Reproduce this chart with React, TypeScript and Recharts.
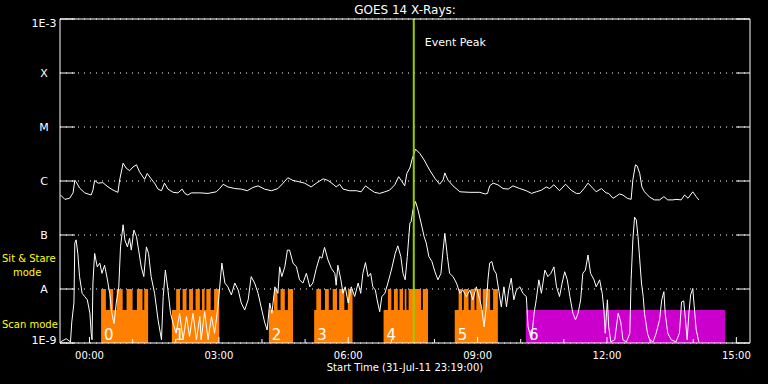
import { LineChart, Line, XAxis, YAxis, CartesianGrid, ReferenceArea, ReferenceLine, Label, Customized } from "recharts";

const FONT = "'DejaVu Sans', sans-serif";

// hours relative to 01-Aug-11 00:00 UT; plot runs 31-Jul 23:19 -> 01-Aug 15:19
const startHour = -41 / 60;
const endHour = 15 + 19 / 60;
const eventPeakHour = 7.52;

const hourTicks = [0, 1, 2, 3, 4, 5, 6, 7, 8, 9, 10, 11, 12, 13, 14, 15];
const decadeTicks = [-9, -8, -7, -6, -5, -4, -3];
const decadeLabels = ["1E-9", "A", "B", "C", "M", "X", "1E-3"];

// [hour, log10 flux W/m^2] - 1-8 A channel
const longChannel = [
    [-0.67, -6.26], [-0.57, -6.34], [-0.46, -6.32], [-0.38, -6.22], [-0.34, -5.99], [-0.31, -6.01], [-0.23, -6.13], [-0.11, -6.22],
    [0.04, -6.26], [0.08, -6.17], [0.12, -5.99], [0.2, -6.04], [0.31, -6.03], [0.43, -6.11], [0.55, -6.17], [0.66, -6.21], [0.7, -5.98],
    [0.78, -5.67], [0.85, -5.76], [0.93, -5.81], [1.01, -5.74], [1.09, -5.7], [1.16, -5.83], [1.28, -5.97], [1.34, -5.86], [1.42, -5.95],
    [1.51, -6.04], [1.59, -6.15], [1.67, -6.18], [1.74, -6.04], [1.82, -6.15], [1.94, -6.21], [2.05, -6.22], [2.15, -6.15], [2.21, -6.23],
    [2.28, -6.26], [2.36, -6.22], [2.56, -6.22], [2.75, -6.23], [2.94, -6.2], [3.02, -6.14], [3.1, -6.06], [3.21, -6.11], [3.37, -6.14],
    [3.52, -6.15], [3.66, -6.18], [3.79, -6.12], [3.91, -6.09], [4.06, -6.15], [4.22, -6.18], [4.37, -6.14], [4.49, -6.04], [4.6, -5.94],
    [4.72, -5.99], [4.84, -6.01], [4.99, -6.04], [5.14, -6.11], [5.26, -6.04], [5.42, -5.96], [5.53, -5.99], [5.65, -6.06], [5.72, -6.11],
    [5.8, -6.06], [5.88, -6.15], [6.03, -6.18], [6.19, -6.18], [6.3, -6.2], [6.4, -6.09], [6.5, -6.15], [6.61, -6.21], [6.73, -6.23],
    [6.85, -6.2], [6.96, -6.17], [7.08, -6.07], [7.17, -5.92], [7.23, -5.99], [7.31, -6.09], [7.36, -5.86], [7.43, -5.76], [7.48, -5.6],
    [7.56, -5.41], [7.66, -5.49], [7.76, -5.61], [7.89, -5.8], [8.01, -5.95], [8.12, -6.06], [8.2, -5.98], [8.24, -5.85], [8.31, -5.98],
    [8.43, -6.09], [8.59, -6.2], [8.82, -6.21], [9.05, -6.21], [9.17, -6.24], [9.23, -6.23], [9.28, -6.09], [9.36, -6.04], [9.47, -6.07],
    [9.59, -6.14], [9.71, -6.15], [9.82, -6.09], [9.98, -6.14], [10.13, -6.18], [10.25, -6.23], [10.36, -6.2], [10.48, -6.17],
    [10.59, -6.11], [10.67, -6.14], [10.77, -6.07], [10.9, -6.18], [11.04, -6.06], [11.17, -6.17], [11.29, -6.23], [11.37, -6.23],
    [11.47, -6.14], [11.56, -6.04], [11.68, -6.14], [11.75, -6.2], [11.87, -6.14], [11.98, -6.22], [12.04, -6.23], [12.14, -6.32],
    [12.22, -6.28], [12.29, -6.24], [12.37, -6.26], [12.47, -6.32], [12.56, -6.34], [12.6, -5.98], [12.66, -5.7], [12.7, -5.72],
    [12.76, -5.86], [12.81, -6.11], [12.87, -6.2], [12.99, -6.3], [13.1, -6.35], [13.22, -6.35], [13.32, -6.29], [13.41, -6.35],
    [13.53, -6.35], [13.6, -6.34], [13.72, -6.35], [13.8, -6.26], [13.88, -6.32], [13.99, -6.2], [14.07, -6.29], [14.13, -6.35],
];

// 0.5-4 A channel
const shortChannel = [
    [-0.67, -8.98], [-0.54, -8.92], [-0.44, -8.98], [-0.41, -8.61], [-0.36, -8.26], [-0.34, -7.15], [-0.31, -7.09], [-0.27, -7.34],
    [-0.23, -7.77], [-0.17, -8.08], [-0.11, -8.14], [-0.05, -8.2], [0.01, -8.45], [0.04, -8.82], [0.06, -8.94], [0.08, -7.89], [0.12, -7.34],
    [0.18, -7.59], [0.24, -7.52], [0.29, -7.71], [0.35, -7.56], [0.41, -7.8], [0.47, -8.08], [0.52, -8.45], [0.57, -8.64], [0.62, -8.26],
    [0.68, -7.96], [0.72, -7.22], [0.78, -6.81], [0.82, -7.09], [0.88, -7.22], [0.93, -7.06], [0.97, -7.28], [1.03, -6.91], [1.09, -7.03],
    [1.14, -7.28], [1.2, -7.59], [1.26, -7.77], [1.32, -7.22], [1.37, -7.34], [1.43, -7.77], [1.51, -8.08], [1.59, -8.57], [1.67, -8.94],
    [1.71, -8.14], [1.76, -7.65], [1.82, -8.02], [1.88, -8.45], [1.94, -8.64], [2.01, -8.82], [2.09, -8.45], [2.17, -8.94], [2.25, -8.51],
    [2.32, -8.88], [2.4, -8.45], [2.48, -8.94], [2.56, -8.51], [2.59, -8.94], [2.67, -8.42], [2.75, -8.94], [2.83, -8.51], [2.9, -8.82],
    [2.98, -8.33], [3.02, -7.96], [3.07, -7.52], [3.14, -7.89], [3.21, -7.96], [3.29, -8.11], [3.37, -7.89], [3.45, -8.02], [3.52, -8.26],
    [3.6, -8.39], [3.68, -8.2], [3.75, -7.77], [3.83, -7.89], [3.91, -8.08], [3.98, -8.33], [4.06, -8.61], [4.12, -8.76], [4.18, -8.26],
    [4.23, -8.45], [4.3, -7.96], [4.37, -8.08], [4.41, -7.59], [4.46, -7.77], [4.53, -7.59], [4.59, -7.28], [4.64, -7.28], [4.72, -7.52],
    [4.8, -7.59], [4.87, -7.83], [4.95, -7.89], [5.03, -7.71], [5.11, -7.96], [5.18, -7.89], [5.26, -7.62], [5.34, -7.4], [5.39, -7.43],
    [5.45, -7.23], [5.53, -7.46], [5.61, -7.62], [5.69, -7.71], [5.72, -7.93], [5.76, -7.56], [5.83, -7.83], [5.88, -8.08], [5.93, -7.96],
    [6.0, -8.26], [6.07, -7.96], [6.15, -8.14], [6.23, -7.89], [6.29, -8.08], [6.34, -7.71], [6.4, -7.51], [6.46, -7.77], [6.52, -7.71],
    [6.57, -7.96], [6.63, -8.02], [6.67, -8.2], [6.73, -8.42], [6.78, -8.14], [6.85, -8.08], [6.92, -7.89], [7.0, -7.65], [7.09, -7.34],
    [7.15, -7.2], [7.22, -7.4], [7.27, -7.71], [7.32, -7.83], [7.37, -7.4], [7.43, -6.78], [7.46, -6.75], [7.5, -6.54], [7.56, -6.38],
    [7.62, -6.54], [7.69, -6.78], [7.76, -7.03], [7.81, -7.15], [7.87, -7.4], [7.94, -7.49], [8.01, -7.68], [8.08, -7.83], [8.15, -7.71],
    [8.2, -7.28], [8.24, -6.97], [8.3, -7.4], [8.35, -7.71], [8.43, -7.77], [8.51, -7.89], [8.59, -8.08], [8.66, -8.02], [8.74, -8.14],
    [8.82, -8.02], [8.89, -8.2], [8.97, -7.96], [9.05, -8.2], [9.09, -8.33], [9.15, -8.7], [9.2, -8.33], [9.24, -7.83], [9.28, -7.52],
    [9.33, -7.49], [9.38, -7.65], [9.43, -7.71], [9.49, -8.02], [9.55, -8.33], [9.61, -7.96], [9.67, -8.33], [9.72, -8.02], [9.78, -7.8],
    [9.84, -8.2], [9.9, -8.02], [9.98, -7.96], [10.05, -8.08], [10.13, -8.14], [10.17, -8.7], [10.21, -8.82], [10.25, -8.94], [10.31, -8.45],
    [10.36, -8.2], [10.42, -7.83], [10.48, -8.08], [10.56, -7.65], [10.63, -7.77], [10.7, -7.71], [10.77, -7.59], [10.83, -7.96],
    [10.9, -8.14], [10.96, -7.89], [11.02, -7.68], [11.08, -7.83], [11.14, -8.14], [11.21, -8.45], [11.27, -8.57], [11.33, -8.45],
    [11.39, -8.2], [11.44, -7.71], [11.5, -7.65], [11.56, -7.37], [11.62, -7.71], [11.7, -7.83], [11.75, -7.96], [11.83, -7.83],
    [11.89, -8.08], [11.93, -8.39], [11.96, -8.82], [12.01, -8.2], [12.04, -8.7], [12.09, -8.98], [12.18, -8.94], [12.26, -8.45],
    [12.32, -8.61], [12.37, -8.94], [12.45, -8.98], [12.53, -8.82], [12.56, -7.83], [12.6, -7.09], [12.64, -6.67], [12.68, -6.72],
    [12.72, -7.03], [12.76, -7.46], [12.8, -7.89], [12.84, -8.14], [12.87, -8.45], [12.94, -8.82], [12.99, -8.94], [13.07, -8.98],
    [13.14, -8.82], [13.22, -8.57], [13.27, -8.2], [13.32, -8.05], [13.35, -8.45], [13.41, -8.82], [13.49, -8.94], [13.6, -8.98],
    [13.68, -8.82], [13.73, -8.24], [13.78, -8.22], [13.82, -8.57], [13.86, -8.94], [13.9, -8.45], [13.94, -8.11], [13.99, -7.99],
    [14.03, -8.39], [14.07, -8.76], [14.13, -8.98],
];

// observation blocks [start hour, end hour]
const blockNames = ["0", "1", "2", "3", "4", "5", "6"];
const blockSpans = [[0.27, 1.36], [1.91, 3.01], [4.16, 4.72], [5.21, 6.1], [6.82, 7.85], [8.47, 9.47], [10.12, 14.74]];
const blockKinds = ["scan", "scan", "scan", "scan", "scan", "scan", "stare"];

// individual rasters inside the scan blocks
const rasterSpans = [
    [0.27, 0.38], [0.47, 0.55], [0.63, 0.77], [0.86, 1.0], [1.1, 1.23], [1.27, 1.36],
    [2.01, 2.1], [2.16, 2.25], [2.31, 2.4], [2.46, 2.56], [2.61, 2.67], [2.71, 2.81], [2.89, 3.01],
    [4.28, 4.36], [4.43, 4.53], [4.6, 4.72],
    [5.26, 5.37], [5.46, 5.55], [5.64, 5.74], [5.79, 5.91], [5.99, 6.1],
    [6.92, 7.0], [7.06, 7.15], [7.19, 7.27], [7.31, 7.35], [7.4, 7.69], [7.73, 7.85],
    [8.56, 8.64], [8.68, 8.79], [8.84, 8.93], [8.97, 9.08], [9.12, 9.29], [9.36, 9.47],
];

const BAND_TOP = -8.39;
const RASTER_TOP = -8;

const longData = longChannel.map(([t, v]) => ({ t, v }));
const shortData = shortChannel.map(([t, v]) => ({ t, v }));

const pad = (n: number) => (n < 10 ? "0" + n : "" + n);

const BottomTick = (props: any) => {
    const { x, y, payload } = props;
    const h = payload.value;
    const major = h % 3 === 0;
    return (
        <g>
            <line x1={x} x2={x} y1={y} y2={y - (major ? 6 : 4)} stroke="#fff" />
            {major && (
                <text x={x} y={y + 15.5} textAnchor="middle" fill="#fff" fontSize={10} fontFamily={FONT}>
                    {pad(h)}:00
                </text>
            )}
        </g>
    );
};

const TopTick = (props: any) => {
    const { x, y, payload } = props;
    const major = payload.value % 3 === 0;
    return <line x1={x} x2={x} y1={y} y2={y + (major ? 6 : 4)} stroke="#fff" />;
};

const LeftTick = (props: any) => {
    const { x, y, payload } = props;
    const i = decadeTicks.indexOf(payload.value);
    const nudge = payload.value === -3 ? 4 : payload.value === -9 ? -3 : 0.5;
    return (
        <g>
            <line x1={x + 16} x2={x + 31} y1={y} y2={y} stroke="#fff" />
            <text x={x} y={y + nudge} textAnchor="middle" dominantBaseline="central" fill="#fff" fontSize={11} fontFamily={FONT}>
                {decadeLabels[i]}
            </text>
        </g>
    );
};

const RightTick = (props: any) => {
    const { x, y } = props;
    return <line x1={x - 14} x2={x} y1={y} y2={y} stroke="#fff" />;
};

const ModeLabels = () => (
    <g fontFamily={FONT} fontSize={10} fill="#ffff00">
        <text x={2} y={262}>{"Sit & Stare"}</text>
        <text x={13} y={275.5}>mode</text>
        <text x={2} y={328}>Scan mode</text>
    </g>
);

const EventLabel = (props: any) => {
    const vb = props.viewBox || {};
    return (
        <text x={(vb.x ?? 0) + 11} y={(vb.y ?? 0) + 27} fill="#fff" fontSize={11} fontFamily={FONT}>
            Event Peak
        </text>
    );
};

export default function App() {
    return (
        <div style={{ position: "absolute", left: 0, top: 0, width: 768, height: 384, background: "#000", fontFamily: FONT }}>
            <LineChart width={768} height={384} margin={{ top: 0, right: 0, bottom: 0, left: 0 }}>
                <CartesianGrid horizontal vertical={false} stroke="#fff" strokeDasharray="1 5" />
                <XAxis
                    dataKey="t"
                    type="number"
                    domain={[startHour, endHour]}
                    ticks={hourTicks}
                    interval={0}
                    tickSize={0}
                    tickMargin={0}
                    height={41}
                    stroke="#fff"
                    tick={<BottomTick />}
                    allowDataOverflow
                >
                    <Label value="Start Time (31-Jul-11 23:19:00)" position="insideBottom" offset={13} fill="#fff" fontSize={10} fontFamily={FONT} />
                </XAxis>
                <XAxis
                    xAxisId="top"
                    orientation="top"
                    type="number"
                    domain={[startHour, endHour]}
                    ticks={hourTicks}
                    interval={0}
                    tickSize={0}
                    tickMargin={0}
                    height={19}
                    stroke="#fff"
                    tick={<TopTick />}
                    allowDataOverflow
                >
                    <Label value="GOES 14 X-Rays:" position="insideTop" offset={5} fill="#fff" fontSize={12} fontFamily={FONT} />
                </XAxis>
                <YAxis
                    type="number"
                    domain={[-9, -3]}
                    ticks={decadeTicks}
                    interval={0}
                    tickSize={0}
                    tickMargin={16}
                    width={60}
                    stroke="#fff"
                    tick={<LeftTick />}
                    allowDataOverflow
                />
                <YAxis
                    yAxisId="right"
                    orientation="right"
                    type="number"
                    domain={[-9, -3]}
                    ticks={decadeTicks}
                    interval={0}
                    tickSize={0}
                    tickMargin={0}
                    width={18}
                    stroke="#fff"
                    tick={<RightTick />}
                    allowDataOverflow
                />
                {blockSpans.map(([s, e], i) => (
                    <ReferenceArea
                        key={"b" + i}
                        x1={s}
                        x2={e}
                        y1={-9}
                        y2={BAND_TOP}
                        fill={blockKinds[i] === "scan" ? "#ff8000" : "#cc00cc"}
                        fillOpacity={1}
                        stroke="none"
                        label={{ value: blockNames[i], position: "insideBottomLeft", offset: 3, fill: "#fff", fontSize: 15, fontFamily: FONT }}
                    />
                ))}
                {rasterSpans.map(([s, e], i) => (
                    <ReferenceArea key={"r" + i} x1={s} x2={e} y1={BAND_TOP} y2={RASTER_TOP} fill="#ff8000" fillOpacity={1} stroke="none" />
                ))}
                <Line data={longData} dataKey="v" type="linear" stroke="#fff" strokeWidth={1} dot={false} isAnimationActive={false} />
                <Line data={shortData} dataKey="v" type="linear" stroke="#fff" strokeWidth={1} dot={false} isAnimationActive={false} />
                <ReferenceLine x={eventPeakHour} stroke="#99cc00" strokeWidth={2} label={<EventLabel />} />
                <Customized component={ModeLabels} />
            </LineChart>
        </div>
    );
}
